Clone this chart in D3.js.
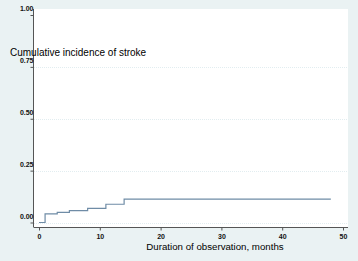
<!DOCTYPE html>
<html>
<head>
<meta charset="utf-8">
<script src="https://cdn.jsdelivr.net/npm/d3@7"></script>
<style>
  body { margin: 0; background: #eaf2f3; }
  svg { display: block; font-family: "Liberation Sans", Arial, sans-serif; }
</style>
</head>
<body>
<div class="chart"></div>
<script>
// step function: month at which the curve changes, and cumulative incidence after it
const months = [0, 1, 3, 5, 8, 11, 14, 48];
const incidence = [0, 0.042, 0.049, 0.057, 0.068, 0.088, 0.113, 0.113];
const xTicks = [0, 10, 20, 30, 40, 50];
const yTicks = [0, 0.25, 0.5, 0.75, 1];

const width = 358, height = 261;

const svg = d3.select(".chart").append("svg")
              .attr("width", width)
              .attr("height", height);

// pale background
svg.append("rect")
   .attr("width", width).attr("height", height)
   .attr("fill", "#eaf2f3");

const x = d3.scaleLinear().domain([0, 50]).range([39, 343]);
const y = d3.scaleLinear().domain([0, 1]).range([222.5, 15]);

const plot = {left: 34, right: 348, top: 9, bottom: 227.5};

// white plot region
svg.append("rect")
   .attr("x", plot.left).attr("y", plot.top)
   .attr("width", plot.right - plot.left)
   .attr("height", plot.bottom - plot.top)
   .attr("fill", "#ffffff");

// dotted grid
svg.append("g")
   .selectAll("line")
   .data(yTicks.filter(d => d < 1))
   .enter()
   .append("line")
   .attr("x1", plot.left).attr("x2", plot.right)
   .attr("y1", d => Math.round(y(d)) + 0.5)
   .attr("y2", d => Math.round(y(d)) + 0.5)
   .attr("stroke", "#e2edf0")
   .attr("stroke-dasharray", "1,1");

// y axis
const yAxis = svg.append("g")
   .attr("transform", `translate(${plot.left - 0.5},0)`)
   .call(d3.axisLeft(y).tickValues(yTicks).tickFormat(d3.format(".2f")).tickSize(3).tickSizeOuter(0));
yAxis.select(".domain").attr("d", `M0,${plot.top}V${plot.bottom}`).attr("stroke", "#555");
yAxis.selectAll(".tick line").attr("stroke", "#555");
yAxis.selectAll(".tick text")
     .attr("x", 0).attr("dy", "-0.6em")
     .attr("font-size", 7).attr("font-weight", "bold")
     .attr("fill", "#111")
     .attr("font-family", "Liberation Sans, Arial, sans-serif");

// x axis
const xAxis = svg.append("g")
   .attr("transform", `translate(0,${plot.bottom})`)
   .call(d3.axisBottom(x).tickValues(xTicks).tickSize(3).tickSizeOuter(0));
xAxis.select(".domain").attr("d", `M${plot.left},0H${plot.right}`).attr("stroke", "#555");
xAxis.selectAll(".tick line").attr("stroke", "#555");
xAxis.selectAll(".tick text")
     .attr("y", 6.5)
     .attr("font-size", 7).attr("font-weight", "bold")
     .attr("fill", "#111")
     .attr("font-family", "Liberation Sans, Arial, sans-serif");

// step curve
const data = months.map((m, i) => ({m: m, v: incidence[i]}));
const line = d3.line()
               .x(d => x(d.m))
               .y(d => y(d.v))
               .curve(d3.curveStepAfter);

svg.append("path")
   .datum(data)
   .attr("d", line)
   .attr("fill", "none")
   .attr("stroke", "#6f8ca6")
   .attr("stroke-width", 1.2);

// titles
svg.append("text")
   .attr("x", 10).attr("y", 55.5)
   .attr("font-size", 10)
   .attr("fill", "#000")
   .text("Cumulative incidence of stroke");

svg.append("text")
   .attr("x", 215).attr("y", 249.5)
   .attr("text-anchor", "middle")
   .attr("font-size", 9.7)
   .attr("fill", "#000")
   .text("Duration of observation, months");
</script>
</body>
</html>
